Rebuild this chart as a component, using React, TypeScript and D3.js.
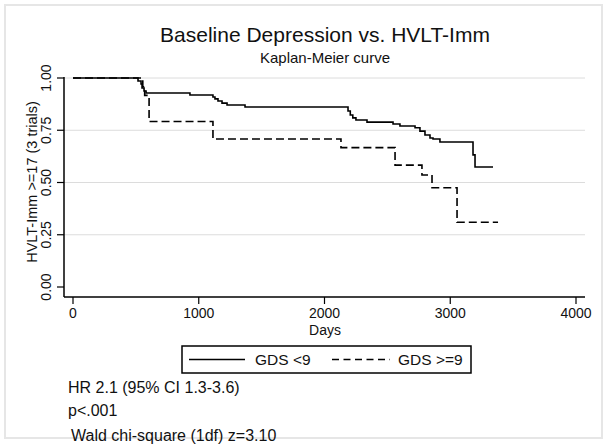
import React from 'react'
import * as d3 from 'd3'

// Kaplan-Meier estimates (days, survival)
const lowDays = [0, 517, 541, 549, 565, 581, 930, 1113, 1129, 1153, 1185, 1225, 1368, 2187, 2205, 2225, 2250, 2338, 2545, 2600, 2720, 2759, 2799, 2839, 2863, 2918, 3181, 3197, 3340]
const lowSurv = [1.0, 0.986, 0.971, 0.952, 0.938, 0.928, 0.919, 0.909, 0.9, 0.89, 0.88, 0.871, 0.861, 0.842, 0.823, 0.809, 0.799, 0.789, 0.78, 0.77, 0.762, 0.746, 0.727, 0.713, 0.708, 0.694, 0.632, 0.574, 0.574]

const highDays = [0, 555, 570, 605, 1113, 2131, 2561, 2775, 2855, 3054, 3380]
const highSurv = [1.0, 0.958, 0.917, 0.792, 0.708, 0.667, 0.583, 0.536, 0.475, 0.31, 0.31]

const xTicks = [0, 1000, 2000, 3000, 4000]
const yTicks = [0, 0.25, 0.5, 0.75, 1]
const gridTicks = [0.25, 0.5, 0.75, 1]
const legendLabels = ['GDS <9', 'GDS >=9']
const notes = ['HR 2.1 (95% CI 1.3-3.6)', 'p<.001', 'Wald chi-square (1df) z=3.10']

const W = 608
const H = 448
const font = '"Liberation Sans", Arial, Helvetica, sans-serif'

export default function App() {
  const x = d3.scaleLinear().domain([0, 4000]).range([73, 576])
  const y = d3.scaleLinear().domain([0, 1]).range([287, 78])
  const xAxisY = 297
  const yAxisX = 64
  const xEnd = 585

  const line = d3.line<[number, number]>()
    .x(d => x(d[0]))
    .y(d => y(d[1]))
    .curve(d3.curveStepAfter)

  const lowPath = line(lowDays.map((d, i) => [d, lowSurv[i]]))
  const highPath = line(highDays.map((d, i) => [d, highSurv[i]]))

  return (
    <svg width={W} height={H} style={{ position: 'absolute', left: 0, top: 0, background: '#fff' }} fontFamily={font}>
      <rect x={5} y={5} width={597} height={433} fill="none" stroke="#e6e6e6" strokeWidth={2} />

      {/* titles */}
      <text x={325} y={42} textAnchor="middle" fontSize={21} fill="#111">Baseline Depression vs. HVLT-Imm</text>
      <text x={325} y={63} textAnchor="middle" fontSize={15} fill="#111">Kaplan-Meier curve</text>

      {/* grid */}
      {gridTicks.map(t => (
        <line key={t} x1={yAxisX} x2={xEnd} y1={y(t)} y2={y(t)} stroke="#dcdcdc" strokeWidth={1} />
      ))}

      {/* axes */}
      <line x1={yAxisX} x2={yAxisX} y1={y(1) - 1} y2={xAxisY} stroke="#000" strokeWidth={1.5} />
      <line x1={yAxisX} x2={xEnd} y1={xAxisY} y2={xAxisY} stroke="#000" strokeWidth={1.5} />
      {yTicks.map(t => (
        <g key={t}>
          <line x1={yAxisX - 7} x2={yAxisX} y1={y(t)} y2={y(t)} stroke="#000" strokeWidth={1.2} />
          <text transform={`translate(${51},${y(t)}) rotate(-90)`} textAnchor="middle" fontSize={14} fill="#111">
            {d3.format('.2f')(t)}
          </text>
        </g>
      ))}
      {xTicks.map(t => (
        <g key={t}>
          <line x1={x(t)} x2={x(t)} y1={xAxisY} y2={xAxisY + 7} stroke="#000" strokeWidth={1.2} />
          <text x={x(t)} y={318} textAnchor="middle" fontSize={14} fill="#111">{t}</text>
        </g>
      ))}
      <text x={325} y={335} textAnchor="middle" fontSize={14} fill="#111">Days</text>
      <text transform={`translate(${37},${182}) rotate(-90)`} textAnchor="middle" fontSize={14.5} fill="#111">
        HVLT-Imm &gt;=17 (3 trials)
      </text>

      {/* curves */}
      <path d={lowPath ?? ''} fill="none" stroke="#000" strokeWidth={1.6} />
      <path d={highPath ?? ''} fill="none" stroke="#000" strokeWidth={1.6} strokeDasharray="8 4" />

      {/* legend */}
      <rect x={182} y={346} width={289} height={27} fill="#fff" stroke="#000" strokeWidth={1.5} />
      <line x1={189} x2={245} y1={359.5} y2={359.5} stroke="#000" strokeWidth={1.3} />
      <text x={255} y={365} fontSize={15.5} fill="#111">{legendLabels[0]}</text>
      <line x1={332} x2={390} y1={359.5} y2={359.5} stroke="#000" strokeWidth={1.3} strokeDasharray="7 4.5" />
      <text x={398} y={365} fontSize={15.5} fill="#111">{legendLabels[1]}</text>

      {/* notes */}
      <text x={68} y={393} fontSize={16} fill="#111">{notes[0]}</text>
      <text x={68} y={416} fontSize={16} fill="#111">{notes[1]}</text>
      <text x={71} y={441} fontSize={16} fill="#111">{notes[2]}</text>
    </svg>
  )
}
